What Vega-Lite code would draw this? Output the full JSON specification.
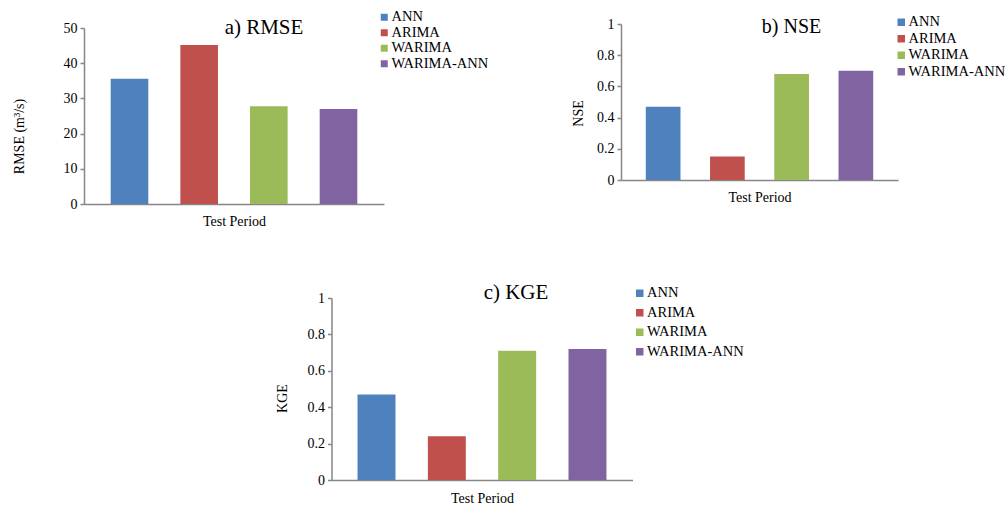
{
  "$schema": "https://vega.github.io/schema/vega-lite/v6.json",
  "background": "white",
  "padding": {"left": 12, "top": 10, "right": 0, "bottom": 0},
  "config": {
    "font": "Liberation Serif",
    "view": {"stroke": null},
    "axis": {"grid": false, "domainColor": "#868686", "tickColor": "#868686", "labelColor": "#000", "titleColor": "#000", "labelFont": "Liberation Serif", "titleFont": "Liberation Serif", "labelFontSize": 14, "titleFontSize": 14, "titleFontWeight": "normal", "tickSize": 4, "labelPadding": 3, "domainWidth": 1.5, "tickWidth": 1.5},
    "legend": {"labelFont": "Liberation Serif", "labelFontSize": 14.5, "labelColor": "#000", "symbolType": "square", "symbolStrokeWidth": 0, "labelOffset": 0, "labelLimit": 0, "padding": 0},
    "title": {"font": "Liberation Serif", "fontWeight": "normal", "color": "#000"}
  },
  "resolve": {"scale": {"color": "independent"}, "legend": {"color": "independent"}},
  "spacing": 44,
  "center": true,
  "vconcat": [
    {
      "hconcat": [
        {
          "width": 300, "height": 176,
          "data": {"values": [
            {"model": "ANN", "value": 35.6},
            {"model": "ARIMA", "value": 45.2},
            {"model": "WARIMA", "value": 27.8},
            {"model": "WARIMA-ANN", "value": 27.0}
          ]},
          "title": {"text": "a) RMSE", "fontSize": 21, "anchor": "middle", "dx": 30, "offset": -28},
          "mark": {"type": "bar"},
          "encoding": {
            "x": {"field": "model", "type": "nominal", "sort": null, "scale": {"paddingInner": 0.46, "paddingOuter": 0.383}, "axis": {"labels": false, "ticks": false, "title": "Test Period", "titlePadding": 10}},
            "y": {"field": "value", "type": "quantitative", "scale": {"domain": [0, 50]}, "axis": {"values": [0, 10, 20, 30, 40, 50], "title": "RMSE (m³/s)", "titlePadding": 37, "titleY": 108}},
            "color": {"field": "model", "type": "nominal", "sort": null, "scale": {"domain": ["ANN", "ARIMA", "WARIMA", "WARIMA-ANN"], "range": ["#4F81BD", "#C0504D", "#9BBB59", "#8064A2"]}, "legend": {"orient": "none", "legendX": 293, "legendY": -18, "title": null, "symbolSize": 49, "rowPadding": 0.5}}
          }
        },
        {
          "width": 277, "height": 152,
          "data": {"values": [
            {"model": "ANN", "value": 0.47},
            {"model": "ARIMA", "value": 0.15},
            {"model": "WARIMA", "value": 0.68},
            {"model": "WARIMA-ANN", "value": 0.70}
          ]},
          "title": {"text": "b) NSE", "fontSize": 20, "anchor": "middle", "dx": 32, "offset": -22},
          "mark": {"type": "bar"},
          "encoding": {
            "x": {"field": "model", "type": "nominal", "sort": null, "scale": {"paddingInner": 0.46, "paddingOuter": 0.386}, "axis": {"labels": false, "ticks": false, "title": "Test Period", "titlePadding": 10}},
            "y": {"field": "value", "type": "quantitative", "scale": {"domain": [0, 1], "range": [152, -4]}, "axis": {"values": [0, 0.2, 0.4, 0.6, 0.8, 1], "format": "~g", "title": "NSE", "titlePadding": 11.5, "titleY": 85}},
            "color": {"field": "model", "type": "nominal", "sort": null, "scale": {"domain": ["ANN", "ARIMA", "WARIMA", "WARIMA-ANN"], "range": ["#4F81BD", "#C0504D", "#9BBB59", "#8064A2"]}, "legend": {"orient": "none", "legendX": 273, "legendY": -13, "title": null, "symbolSize": 56, "rowPadding": 1.5}}
          }
        }
      ],
      "spacing": 82,
      "resolve": {"scale": {"color": "independent"}, "legend": {"color": "independent"}}
    },
    {
      "width": 301, "height": 182,
      "data": {"values": [
        {"model": "ANN", "value": 0.47},
        {"model": "ARIMA", "value": 0.24},
        {"model": "WARIMA", "value": 0.71},
        {"model": "WARIMA-ANN", "value": 0.72}
      ]},
      "title": {"text": "c) KGE", "fontSize": 21, "anchor": "middle", "dx": 34, "offset": -31},
      "mark": {"type": "bar"},
      "encoding": {
        "x": {"field": "model", "type": "nominal", "sort": null, "scale": {"paddingInner": 0.46, "paddingOuter": 0.37}, "axis": {"labels": false, "ticks": false, "title": "Test Period", "titlePadding": 11}},
        "y": {"field": "value", "type": "quantitative", "scale": {"domain": [0, 1]}, "axis": {"values": [0, 0.2, 0.4, 0.6, 0.8, 1], "format": "~g", "title": "KGE", "titlePadding": 17.5, "titleY": 100}},
        "color": {"field": "model", "type": "nominal", "sort": null, "scale": {"domain": ["ANN", "ARIMA", "WARIMA", "WARIMA-ANN"], "range": ["#4F81BD", "#C0504D", "#9BBB59", "#8064A2"]}, "legend": {"orient": "none", "legendX": 287, "legendY": -26, "padding": 14, "title": null, "symbolSize": 56, "rowPadding": 4.5}}
      }
    }
  ]
}
